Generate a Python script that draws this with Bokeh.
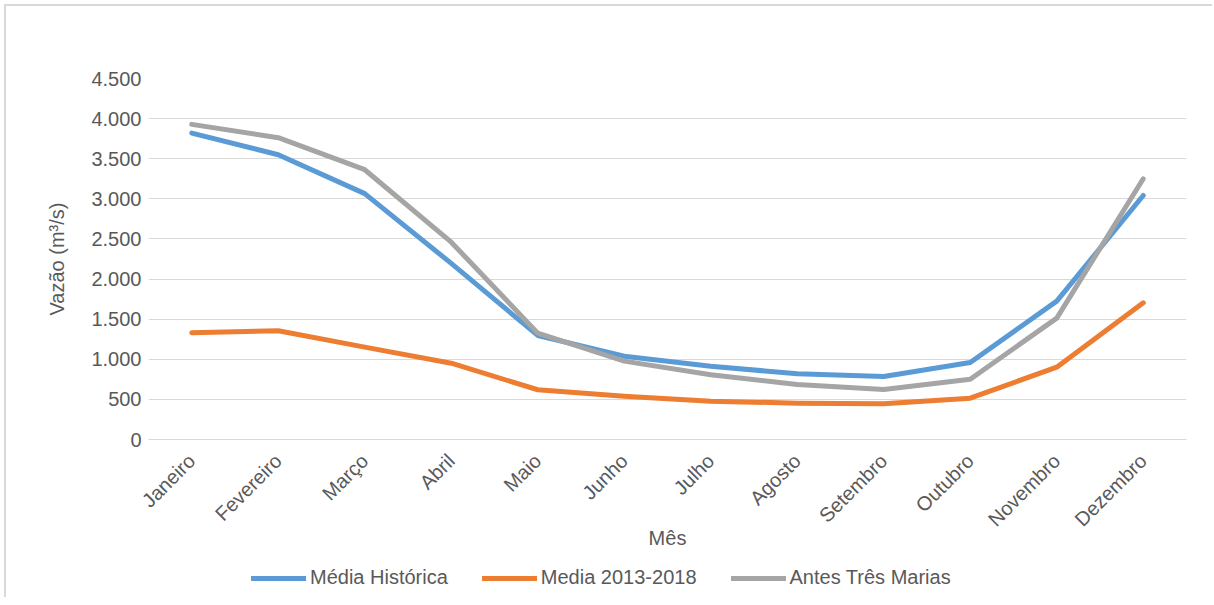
from bokeh.plotting import figure
from bokeh.layouts import column
from bokeh.models import (Range1d, FactorRange, FixedTicker, CustomJSTickFormatter,
                          Legend, LegendItem)
from bokeh.embed import file_html
from bokeh.resources import INLINE
import math

months = ["Janeiro", "Fevereiro", "Março", "Abril", "Maio", "Junho", "Julho",
          "Agosto", "Setembro", "Outubro", "Novembro", "Dezembro"]
media_historica = [3820, 3550, 3065, 2195, 1297, 1039, 914, 819, 786, 960, 1725, 3042]
media_2013_2018 = [1330, 1355, 1151, 951, 620, 540, 478, 453, 445, 515, 902, 1704]
antes_tres_marias = [3928, 3762, 3363, 2460, 1326, 977, 806, 686, 623, 752, 1513, 3250]
series_names = ["Média Histórica", "Media 2013-2018", "Antes Três Marias"]
y_ticks = [0, 500, 1000, 1500, 2000, 2500, 3000, 3500, 4000, 4500]

colors = ["#5B9BD5", "#ED7D31", "#A5A5A5"]
all_series = [media_historica, media_2013_2018, antes_tres_marias]
FONT = "Liberation Sans"
TXT = "#595959"

p = figure(width=1208, height=549,
           x_range=FactorRange(*months, range_padding=0),
           y_range=Range1d(0, 4500), output_backend="svg", toolbar_location=None,
           min_border_left=142, min_border_right=28, min_border_top=72,
           min_border_bottom=116)
p.styles = {"margin-left": "4px", "margin-top": "4px",
            "border-left": "2px solid #D9D9D9", "border-top": "2px solid #D9D9D9"}
p.outline_line_color = None
p.background_fill_color = "white"
p.border_fill_color = "white"

for vals, c in zip(all_series, colors):
    p.line(months, vals, line_color=c, line_width=5, line_cap="round",
           line_join="round")

p.xgrid.grid_line_color = None
p.ygrid.grid_line_color = "#D9D9D9"
p.ygrid.grid_line_width = 1

ya = p.yaxis[0]
ya.ticker = FixedTicker(ticks=y_ticks)
ya.formatter = CustomJSTickFormatter(code="""
return tick.toString().replace(/\\B(?=(\\d{3})+(?!\\d))/g, ".");
""")
ya.axis_line_color = None
ya.major_tick_line_color = None
ya.minor_tick_line_color = None
ya.major_tick_out = 0
ya.major_label_standoff = 7
ya.major_label_text_font = FONT
ya.major_label_text_font_size = "20px"
ya.major_label_text_color = TXT
ya.axis_label = "Vazão (m³/s)"
ya.axis_label_text_font = FONT
ya.axis_label_text_font_size = "20px"
ya.axis_label_text_font_style = "normal"
ya.axis_label_text_color = TXT
ya.axis_label_standoff = 20

xa = p.xaxis[0]
xa.axis_line_color = "#D9D9D9"
xa.axis_line_width = 1
xa.major_tick_line_color = None
xa.minor_tick_line_color = None
xa.major_tick_out = 0
xa.major_label_orientation = math.pi / 4
xa.major_label_standoff = 18
xa.major_label_text_font = FONT
xa.major_label_text_font_size = "20px"
xa.major_label_text_color = TXT
xa.axis_label = "Mês"
xa.axis_label_text_font = FONT
xa.axis_label_text_font_size = "20px"
xa.axis_label_text_font_style = "normal"
xa.axis_label_text_color = TXT
xa.axis_label_standoff = -14

# legend strip below the chart (its lines sit outside its visible y range)
lg = figure(width=1208, height=44, x_range=FactorRange(*months, range_padding=0),
            y_range=Range1d(-2, -1), output_backend="svg", toolbar_location=None,
            min_border=0)
lg.styles = {"margin-left": "4px", "border-left": "2px solid #D9D9D9"}
lg.outline_line_color = None
lg.axis.visible = False
lg.grid.visible = False
lg.border_fill_color = "white"
renderers = []
for vals, c in zip(all_series, colors):
    r = lg.line(months, vals, line_color=c, line_width=5, line_cap="round")
    renderers.append(r)

legend = Legend(items=[LegendItem(label=n, renderers=[r]) for n, r in zip(series_names, renderers)],
                orientation="horizontal", location=(103, 8))
legend.label_text_font = FONT
legend.label_text_font_size = "20px"
legend.label_text_color = TXT
legend.glyph_width = 55
legend.glyph_height = 20
legend.label_standoff = 4
legend.spacing = 34
legend.padding = 0
legend.margin = 0
legend.border_line_color = None
legend.background_fill_alpha = 0
lg.add_layout(legend, "center")

layout = column(p, lg, spacing=0)
open("out.html", "w").write(file_html(layout, INLINE))
